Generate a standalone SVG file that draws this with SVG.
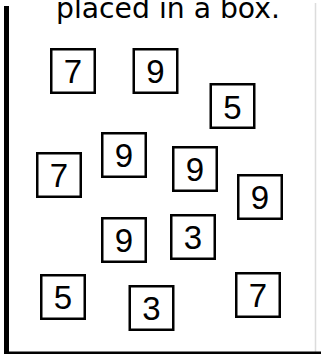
<svg xmlns="http://www.w3.org/2000/svg" width="321" height="354" viewBox="0 0 321 354">
<style>
.box{fill:#fff;stroke:#000;stroke-width:2.5}
.num{font-family:"Liberation Sans",Arial,sans-serif;font-size:33px;text-anchor:middle;fill:#000}
.title{font-family:"DejaVu Sans","Liberation Sans",sans-serif;font-size:28px;fill:#000}
</style>
<rect width="321" height="354" fill="#fff"/>
<g id="frame">
<line x1="315.5" y1="3" x2="315.5" y2="352" stroke="#dcdcdc" stroke-width="1.5"/>
<rect x="4" y="6" width="5" height="348" fill="#000"/>
<rect x="4" y="351.5" width="317" height="2.5" fill="#000"/>
</g>
<text class="title" x="56" y="17.5" textLength="224" lengthAdjust="spacingAndGlyphs">placed in a box.</text>
<g id="n1"><rect class="box" x="51.25" y="49.25" width="43.5" height="43.5"/><text class="num" x="73" y="82.5">7</text></g>
<g id="n2"><rect class="box" x="133.75" y="49.25" width="43.5" height="43.5"/><text class="num" x="155.5" y="82.5">9</text></g>
<g id="n3"><rect class="box" x="210.75" y="84.25" width="43.5" height="43.5"/><text class="num" x="232.5" y="118.5">5</text></g>
<g id="n4"><rect class="box" x="37.25" y="153.25" width="43.5" height="43.5"/><text class="num" x="59" y="187">7</text></g>
<g id="n5"><rect class="box" x="102.25" y="133.25" width="43.5" height="43.5"/><text class="num" x="124" y="166.5">9</text></g>
<g id="n6"><rect class="box" x="173.25" y="147.25" width="43.5" height="43.5"/><text class="num" x="195" y="181">9</text></g>
<g id="n7"><rect class="box" x="238.25" y="175.25" width="43.5" height="43.5"/><text class="num" x="260" y="209">9</text></g>
<g id="n8"><rect class="box" x="102.25" y="218.25" width="43.5" height="43.5"/><text class="num" x="124" y="251.5">9</text></g>
<g id="n9"><rect class="box" x="171.25" y="215.25" width="43.5" height="43.5"/><text class="num" x="193" y="248.5">3</text></g>
<g id="n10"><rect class="box" x="41.25" y="275.25" width="43.5" height="43.5"/><text class="num" x="63" y="308.5">5</text></g>
<g id="n11"><rect class="box" x="129.75" y="286.25" width="43.5" height="43.5"/><text class="num" x="151.5" y="320">3</text></g>
<g id="n12"><rect class="box" x="236.25" y="273.25" width="43.5" height="43.5"/><text class="num" x="258" y="306.5">7</text></g>
</svg>
